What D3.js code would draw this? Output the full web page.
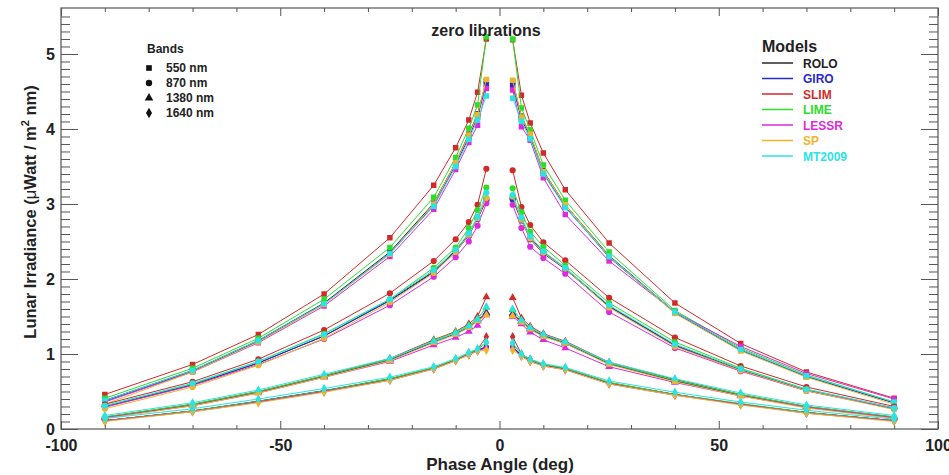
<!DOCTYPE html>
<html lang="en">
<head>
<meta charset="UTF-8">
<title>zero librations</title>
<script src="https://cdn.jsdelivr.net/npm/d3@7/dist/d3.min.js"></script>
<style>
  body { margin: 0; background: #fff; }
  svg { display: block; font-family: "Liberation Sans", Arial, sans-serif; font-weight: bold; }
  .axis line { stroke: #555; }
  .axis text { fill: #222; font-size: 16px; font-weight: bold; font-family: "Liberation Sans", Arial, sans-serif; }
</style>
</head>
<body>
<svg id="chart" width="949" height="475"></svg>
<script>
// phase angles (deg); the curve is broken between -3 and +3
const phaseAngles = [-90, -70, -55, -40, -25, -15, -10, -7, -5, -3, 3, 5, 7, 10, 15, 25, 40, 55, 70, 90];

const modelNames  = ["ROLO", "GIRO", "SLIM", "LIME", "LESSR", "SP", "MT2009"];
const modelColors = ["#2a2a2a", "#2a2ac4", "#d02a2a", "#2ade2a", "#dc2adc", "#f0b42a", "#2ae4e4"];
const bandLabels  = ["550 nm", "870 nm", "1380 nm", "1640 nm"];
const xTicks = [-100, -50, 0, 50, 100];
const yTicks = [0, 1, 2, 3, 4, 5];

// 550 nm
const rolo550  = [0.38, 0.78, 1.18, 1.68, 2.36, 3.01, 3.55, 3.93, 4.20, 4.64, 4.63, 4.17, 3.92, 3.44, 2.99, 2.31, 1.56, 1.06, 0.70, 0.35];
const giro550  = [0.37, 0.77, 1.17, 1.67, 2.34, 2.98, 3.52, 3.89, 4.16, 4.60, 4.58, 4.13, 3.89, 3.41, 2.96, 2.29, 1.55, 1.05, 0.70, 0.35];
const slim550  = [0.46, 0.86, 1.26, 1.80, 2.55, 3.25, 3.75, 4.12, 4.49, 5.20, 5.19, 4.45, 4.08, 3.68, 3.19, 2.48, 1.68, 1.14, 0.76, 0.41];
const lime550  = [0.41, 0.81, 1.21, 1.73, 2.42, 3.09, 3.62, 4.01, 4.32, 5.23, 5.20, 4.28, 3.99, 3.52, 3.05, 2.36, 1.58, 1.08, 0.72, 0.36];
const lessr550 = [0.36, 0.76, 1.15, 1.64, 2.30, 2.93, 3.46, 3.82, 4.05, 4.54, 4.52, 4.03, 3.85, 3.35, 2.86, 2.24, 1.56, 1.10, 0.74, 0.40];
const sp550    = [0.33, 0.76, 1.16, 1.66, 2.33, 3.00, 3.55, 3.92, 4.19, 4.66, 4.65, 4.16, 3.93, 3.43, 2.99, 2.30, 1.54, 1.04, 0.69, 0.33];
const mt550    = [0.38, 0.78, 1.18, 1.67, 2.34, 2.97, 3.50, 3.86, 4.12, 4.44, 4.41, 4.10, 3.87, 3.40, 2.95, 2.30, 1.56, 1.06, 0.71, 0.36];

// 870 nm
const rolo870  = [0.30, 0.59, 0.88, 1.24, 1.72, 2.10, 2.38, 2.60, 2.82, 3.07, 3.08, 2.80, 2.55, 2.36, 2.14, 1.64, 1.12, 0.79, 0.52, 0.27];
const giro870  = [0.30, 0.59, 0.88, 1.24, 1.71, 2.09, 2.36, 2.58, 2.80, 3.05, 3.06, 2.78, 2.53, 2.34, 2.13, 1.63, 1.11, 0.78, 0.51, 0.27];
const slim870  = [0.33, 0.63, 0.93, 1.32, 1.81, 2.24, 2.53, 2.76, 2.99, 3.47, 3.45, 2.96, 2.72, 2.49, 2.25, 1.75, 1.22, 0.84, 0.56, 0.30];
const lime870  = [0.31, 0.60, 0.90, 1.27, 1.73, 2.15, 2.42, 2.68, 2.92, 3.22, 3.21, 2.89, 2.63, 2.43, 2.18, 1.68, 1.16, 0.81, 0.53, 0.28];
const lessr870 = [0.29, 0.58, 0.86, 1.20, 1.65, 2.03, 2.29, 2.50, 2.71, 3.01, 2.99, 2.68, 2.43, 2.28, 2.07, 1.56, 1.08, 0.77, 0.51, 0.28];
const sp870    = [0.27, 0.56, 0.85, 1.21, 1.69, 2.08, 2.36, 2.59, 2.81, 3.08, 3.10, 2.79, 2.54, 2.35, 2.14, 1.62, 1.10, 0.78, 0.51, 0.26];
const mt870    = [0.31, 0.61, 0.90, 1.26, 1.73, 2.12, 2.39, 2.61, 2.83, 3.15, 3.12, 2.82, 2.57, 2.37, 2.15, 1.65, 1.13, 0.80, 0.53, 0.28];

// 1380 nm
const rolo1380  = [0.15, 0.32, 0.49, 0.70, 0.92, 1.16, 1.27, 1.36, 1.45, 1.55, 1.54, 1.43, 1.34, 1.25, 1.15, 0.87, 0.64, 0.45, 0.29, 0.15];
const giro1380  = [0.15, 0.32, 0.49, 0.70, 0.92, 1.16, 1.27, 1.36, 1.44, 1.54, 1.53, 1.43, 1.33, 1.24, 1.14, 0.87, 0.64, 0.45, 0.29, 0.15];
const slim1380  = [0.16, 0.33, 0.50, 0.71, 0.94, 1.19, 1.30, 1.40, 1.50, 1.76, 1.75, 1.48, 1.37, 1.27, 1.17, 0.89, 0.66, 0.46, 0.30, 0.16];
const lime1380  = [0.16, 0.33, 0.50, 0.71, 0.93, 1.18, 1.29, 1.38, 1.47, 1.62, 1.59, 1.45, 1.35, 1.26, 1.16, 0.88, 0.65, 0.46, 0.30, 0.16];
const lessr1380 = [0.15, 0.31, 0.48, 0.69, 0.90, 1.12, 1.22, 1.30, 1.38, 1.52, 1.50, 1.40, 1.29, 1.19, 1.08, 0.83, 0.62, 0.44, 0.29, 0.15];
const sp1380    = [0.14, 0.31, 0.48, 0.69, 0.91, 1.15, 1.26, 1.35, 1.44, 1.52, 1.51, 1.42, 1.33, 1.23, 1.14, 0.86, 0.63, 0.44, 0.28, 0.14];
const mt1380    = [0.18, 0.35, 0.52, 0.73, 0.94, 1.17, 1.28, 1.37, 1.46, 1.63, 1.60, 1.45, 1.35, 1.26, 1.16, 0.89, 0.67, 0.48, 0.32, 0.18];

// 1640 nm
const rolo1640  = [0.11, 0.24, 0.37, 0.51, 0.67, 0.81, 0.92, 1.00, 1.05, 1.10, 1.10, 0.98, 0.92, 0.85, 0.80, 0.61, 0.46, 0.33, 0.22, 0.11];
const giro1640  = [0.11, 0.24, 0.37, 0.51, 0.66, 0.81, 0.92, 1.00, 1.05, 1.09, 1.09, 0.98, 0.91, 0.85, 0.80, 0.61, 0.46, 0.33, 0.22, 0.11];
const slim1640  = [0.11, 0.24, 0.36, 0.50, 0.66, 0.81, 0.92, 1.01, 1.06, 1.23, 1.23, 1.00, 0.93, 0.86, 0.81, 0.62, 0.46, 0.33, 0.22, 0.11];
const lime1640  = [0.11, 0.24, 0.37, 0.51, 0.67, 0.82, 0.93, 1.01, 1.06, 1.15, 1.14, 0.99, 0.92, 0.86, 0.81, 0.62, 0.46, 0.34, 0.22, 0.11];
const lessr1640 = [0.11, 0.23, 0.36, 0.50, 0.65, 0.80, 0.91, 0.99, 1.04, 1.08, 1.08, 0.97, 0.90, 0.84, 0.79, 0.60, 0.45, 0.33, 0.21, 0.11];
const sp1640    = [0.10, 0.23, 0.35, 0.49, 0.65, 0.80, 0.91, 0.99, 1.04, 1.05, 1.05, 0.97, 0.90, 0.84, 0.79, 0.60, 0.45, 0.32, 0.21, 0.10];
const mt1640    = [0.14, 0.27, 0.40, 0.54, 0.69, 0.83, 0.94, 1.02, 1.07, 1.16, 1.15, 1.00, 0.93, 0.87, 0.82, 0.64, 0.49, 0.36, 0.25, 0.13];

// band -> models, same order as modelNames
const bandSeries = [
  [rolo550, giro550, slim550, lime550, lessr550, sp550, mt550],
  [rolo870, giro870, slim870, lime870, lessr870, sp870, mt870],
  [rolo1380, giro1380, slim1380, lime1380, lessr1380, sp1380, mt1380],
  [rolo1640, giro1640, slim1640, lime1640, lessr1640, sp1640, mt1640]
];
const bandSymbols = [d3.symbolSquare, d3.symbolCircle, d3.symbolTriangle, d3.symbolDiamond];
const bandSymbolSize = [30, 30, 27, 26];

const svg = d3.select("#chart");
const plot = { left: 61, top: 8, right: 938, bottom: 429 };

const x = d3.scaleLinear().domain([-100, 100]).range([plot.left, plot.right]);
const y = d3.scaleLinear().domain([0, 5.613]).range([plot.bottom, plot.top]);

const minorX = d3.range(-100, 101, 10).filter(v => v % 50 !== 0);
const minorY = d3.range(0, 56).map(i => i / 10).filter(v => Math.abs(v - Math.round(v)) > 1e-6);

// axes: ticks pointing inward on all four sides
function noLabels(a) { return a.tickFormat(""); }
const plain = d => String(d);   // plain hyphen for negatives

svg.append("g").attr("class", "axis").attr("transform", `translate(0,${plot.bottom})`)
  .call(d3.axisBottom(x).tickValues(xTicks).tickSize(-8).tickPadding(11).tickFormat(plain));
svg.append("g").attr("class", "axis").attr("transform", `translate(0,${plot.bottom})`)
  .call(noLabels(d3.axisBottom(x).tickValues(minorX).tickSize(-4)));
svg.append("g").attr("class", "axis").attr("transform", `translate(0,${plot.top})`)
  .call(noLabels(d3.axisTop(x).tickValues(xTicks).tickSize(-8)));
svg.append("g").attr("class", "axis").attr("transform", `translate(0,${plot.top})`)
  .call(noLabels(d3.axisTop(x).tickValues(minorX).tickSize(-4)));

svg.append("g").attr("class", "axis").attr("transform", `translate(${plot.left},0)`)
  .call(d3.axisLeft(y).tickValues(yTicks).tickSize(-17).tickPadding(6).tickFormat(plain));
svg.append("g").attr("class", "axis").attr("transform", `translate(${plot.left},0)`)
  .call(noLabels(d3.axisLeft(y).tickValues(minorY).tickSize(-9)));
svg.append("g").attr("class", "axis").attr("transform", `translate(${plot.right},0)`)
  .call(noLabels(d3.axisRight(y).tickValues(yTicks).tickSize(-17)));
svg.append("g").attr("class", "axis").attr("transform", `translate(${plot.right},0)`)
  .call(noLabels(d3.axisRight(y).tickValues(minorY).tickSize(-9)));

svg.selectAll(".axis .domain").remove();

svg.append("rect")
  .attr("x", plot.left).attr("y", plot.top)
  .attr("width", plot.right - plot.left).attr("height", plot.bottom - plot.top)
  .attr("fill", "none").attr("stroke", "#555").attr("stroke-width", 1.2);

// curves
const line = d3.line().x(d => x(d.a)).y(d => y(d.v));
const curves = svg.append("g");

bandSeries.forEach((models, b) => {
  const sym = d3.symbol().type(bandSymbols[b]).size(bandSymbolSize[b]);
  models.forEach((vals, m) => {
    const pts = phaseAngles.map((a, i) => ({ a: a, v: vals[i] }));
    const g = curves.append("g");
    [pts.filter(p => p.a < 0), pts.filter(p => p.a > 0)].forEach(side => {
      g.append("path")
        .attr("d", line(side))
        .attr("fill", "none")
        .attr("stroke", modelColors[m])
        .attr("stroke-width", 1);
    });
    g.selectAll("path.mk")
      .data(pts)
      .enter().append("path")
      .attr("class", "mk")
      .attr("d", sym)
      .attr("transform", d => `translate(${x(d.a)},${y(d.v)})`)
      .attr("fill", modelColors[m]);
  });
});

// title
svg.append("text")
  .attr("x", 486).attr("y", 36)
  .attr("text-anchor", "middle")
  .attr("font-size", 16).attr("fill", "#222")
  .text("zero librations");

// axis titles
svg.append("text")
  .attr("x", 500).attr("y", 470)
  .attr("text-anchor", "middle")
  .attr("font-size", 17).attr("fill", "#222")
  .text("Phase Angle (deg)");

const yl = svg.append("text")
  .attr("transform", "translate(36,212) rotate(-90)")
  .attr("text-anchor", "middle")
  .attr("font-size", 16.5).attr("fill", "#222");
yl.append("tspan").text("Lunar Irradiance (");
yl.append("tspan").attr("font-weight", "normal").text("\u03bc");
yl.append("tspan").text("Watt / m");
yl.append("tspan").attr("font-size", 11).attr("dy", -7).text("2");
yl.append("tspan").attr("dy", 7).text(" nm)");

// bands legend
const bandLeg = svg.append("g");
bandLeg.append("text")
  .attr("x", 147).attr("y", 53)
  .attr("font-size", 12).attr("fill", "#222")
  .text("Bands");
bandLabels.forEach((lab, i) => {
  const cy = 68 + i * 15;
  bandLeg.append("path")
    .attr("d", d3.symbol().type(bandSymbols[i]).size(32)())
    .attr("transform", `translate(149,${cy})`)
    .attr("fill", "#111");
  bandLeg.append("text")
    .attr("x", 166).attr("y", cy + 4)
    .attr("font-size", 12).attr("fill", "#222")
    .text(lab);
});

// models legend
const modLeg = svg.append("g");
modLeg.append("text")
  .attr("x", 762).attr("y", 52)
  .attr("font-size", 16).attr("fill", "#222")
  .text("Models");
modelNames.forEach((name, i) => {
  const cy = 63 + i * 15.5;
  modLeg.append("line")
    .attr("x1", 762).attr("x2", 793)
    .attr("y1", cy).attr("y2", cy)
    .attr("stroke", modelColors[i]).attr("stroke-width", 1.5);
  modLeg.append("text")
    .attr("x", 803).attr("y", cy + 4.5)
    .attr("font-size", 12).attr("fill", i === 0 ? "#222" : modelColors[i])
    .text(name);
});
</script>
</body>
</html>
